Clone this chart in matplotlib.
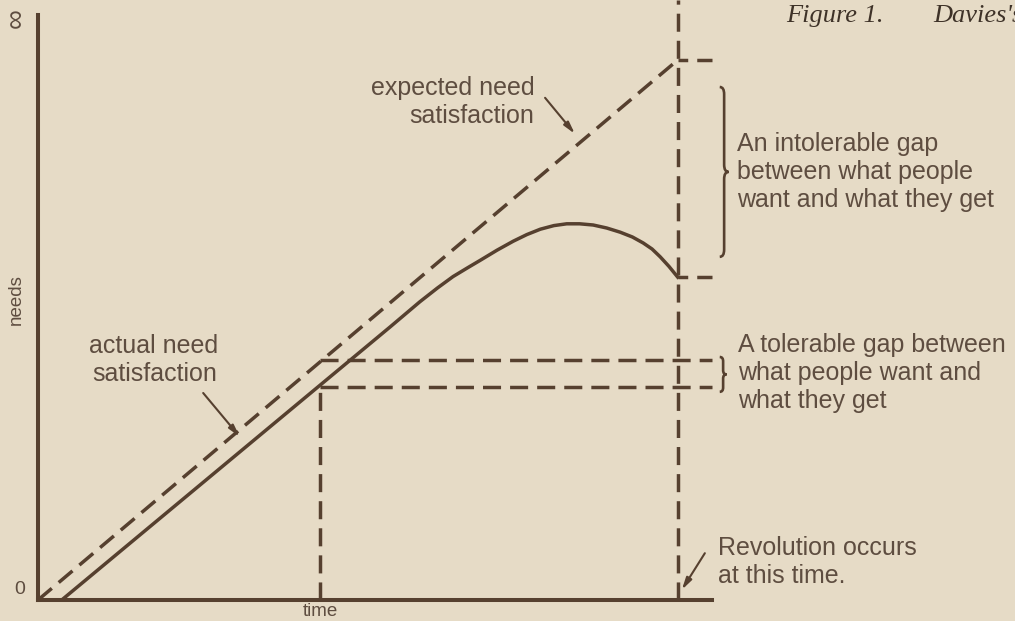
import matplotlib
matplotlib.use("Agg")
import matplotlib.pyplot as plt
from matplotlib.path import Path
from matplotlib.patches import PathPatch

plt.rcParams['font.family'] = ['Liberation Sans', 'DejaVu Sans']
plt.rcParams['lines.scale_dashes'] = False

# Data (arbitrary units: time 0..10, needs 0..10)
expected_t = [0, 9.45]
expected_y = [0, 9.0]

actual_t = [0.35, 5.20, 5.64, 5.90, 6.13, 6.35, 6.53, 6.78, 7.02, 7.22, 7.42, 7.62, 7.81,
            8.00, 8.20, 8.40, 8.60, 8.78, 8.94, 9.07, 9.19, 9.32, 9.45]
actual_y = [0.0, 4.55, 4.97, 5.20, 5.39, 5.54, 5.66, 5.83, 5.98, 6.09, 6.18, 6.24, 6.27,
            6.27, 6.25, 6.20, 6.13, 6.05, 5.95, 5.85, 5.72, 5.56, 5.38]

t_tolerable = 4.17
tolerable_levels = [4.0, 3.55]
t_revolution = 9.45
intolerable_levels = [9.0, 5.38]
x_end = 9.96
y_top = 9.75

bg = '#e6dbc6'
ink = '#56402f'
txt = '#5e4d40'
dash = (0, (13, 6.5))

fig = plt.figure(figsize=(10.15, 6.21), dpi=100, facecolor=bg)
ax = fig.add_axes([38 / 1015, 21 / 621, 677 / 1015, 600 / 621])
ax.set_facecolor(bg)
ax.set_xlim(0, 10)
ax.set_ylim(0, 10)

for s in ['top', 'right']:
    ax.spines[s].set_visible(False)
for s in ['left', 'bottom']:
    ax.spines[s].set_color(ink)
    ax.spines[s].set_linewidth(2.9)
    ax.spines[s].set_capstyle('projecting')
ax.spines['left'].set_bounds(0, y_top)
ax.spines['bottom'].set_bounds(0, x_end)

# curves
ax.plot(expected_t, expected_y, color=ink, lw=2.5, linestyle=dash)
ax.plot(actual_t, actual_y, color=ink, lw=2.5, solid_joinstyle='round')

# tolerable gap guides
ax.plot([t_tolerable, t_tolerable], [0, tolerable_levels[1]], color=ink, lw=2.5, linestyle=dash)
for lev in tolerable_levels:
    ax.plot([t_tolerable, x_end], [lev, lev], color=ink, lw=2.5, linestyle=dash)

# revolution line and intolerable gap guides
ax.plot([t_revolution, t_revolution], [0, 10], color=ink, lw=2.5, linestyle=dash, clip_on=False)
for lev in intolerable_levels:
    ax.plot([t_revolution, x_end], [lev, lev], color=ink, lw=2.5, linestyle=(6, (13, 6.5)))


def brace(x, y0, y1, w, r):
    ym = (y0 + y1) / 2
    verts = [(x, y1), (x + w / 2, y1), (x + w / 2, y1 - r), (x + w / 2, ym + r),
             (x + w / 2, ym), (x + w, ym), (x + w / 2, ym), (x + w / 2, ym - r),
             (x + w / 2, y0 + r), (x + w / 2, y0), (x, y0)]
    codes = [Path.MOVETO, Path.CURVE3, Path.CURVE3, Path.LINETO, Path.CURVE3, Path.CURVE3,
             Path.CURVE3, Path.CURVE3, Path.LINETO, Path.CURVE3, Path.CURVE3]
    ax.add_patch(PathPatch(Path(verts, codes), fill=False, edgecolor=ink, lw=1.9, clip_on=False))


brace(10.07, 5.72, 8.55, 0.13, 0.12)
brace(10.07, 3.47, 4.05, 0.10, 0.07)

fs = 18
ls = 1.22
ax.text(10.32, 7.13, "An intolerable gap\nbetween what people\nwant and what they get",
        fontsize=fs, color=txt, ha='left', va='center', linespacing=ls)
ax.text(10.34, 3.78, "A tolerable gap between\nwhat people want and\nwhat they get",
        fontsize=fs, color=txt, ha='left', va='center', linespacing=ls)
ax.text(10.04, 0.63, "Revolution occurs\nat this time.",
        fontsize=fs, color=txt, ha='left', va='center', linespacing=ls)
ax.text(7.33, 8.3, "expected need\nsatisfaction", fontsize=fs, color=txt,
        ha='right', va='center', multialignment='right', linespacing=ls)
ax.text(1.70, 4.0, "actual need\nsatisfaction", fontsize=fs, color=txt,
        ha='center', va='center', multialignment='right', linespacing=ls)

arrow = dict(arrowstyle='-|>,head_length=0.7,head_width=0.18', color=ink, lw=1.5,
             shrinkA=0, shrinkB=0)
ax.annotate('', xy=(7.93, 7.77), xytext=(7.49, 8.37), arrowprops=arrow)
ax.annotate('', xy=(2.98, 2.72), xytext=(2.44, 3.45), arrowprops=arrow)
ax.annotate('', xy=(9.51, 0.17), xytext=(9.85, 0.78), arrowprops=arrow, annotation_clip=False)

# axis labels
ax.set_yticks([])
ax.set_xticks([t_tolerable], ['time'])
ax.tick_params(axis='x', length=0, pad=2, labelsize=13.5, labelcolor=txt)
ax.set_ylabel('needs', fontsize=13.5, color=txt)
ax.yaxis.set_label_coords(-0.019, 0.5)
ax.text(-0.27, 0.17, '0', fontsize=14, color=txt, ha='center', va='center')
ax.text(-0.31, 9.7, '∞', fontsize=20, color=txt, ha='center', va='center', rotation=90)

# caption fragment of the page
ax.text(11.05, 9.64, 'Figure 1.', fontsize=19, color='#3e3228', family='Liberation Serif',
        style='italic', ha='left', va='baseline')
ax.text(13.22, 9.64, "Davies's", fontsize=19, color='#3e3228', family='Liberation Serif',
        style='italic', ha='left', va='baseline')

fig.savefig('out.png', dpi=100, facecolor=bg)
